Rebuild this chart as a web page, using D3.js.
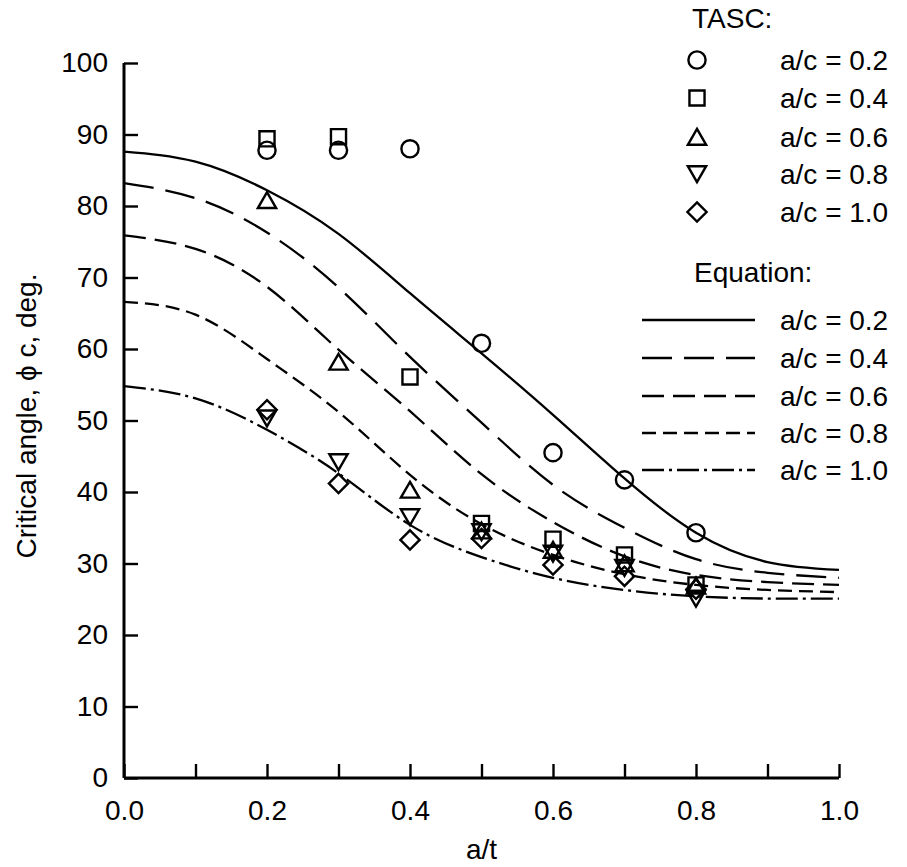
<!DOCTYPE html>
<html>
<head>
<meta charset="utf-8">
<script src="https://cdn.jsdelivr.net/npm/d3@7"></script>
<style>
  html, body { margin: 0; padding: 0; background: #fff; }
  svg { display: block; }
  text { font-family: "Liberation Sans", Arial, sans-serif; fill: #000; }
</style>
</head>
<body>
<svg id="chart" width="907" height="867"></svg>
<script>
// ---------- DATA ----------
const xTicks = [0, 0.1, 0.2, 0.3, 0.4, 0.5, 0.6, 0.7, 0.8, 0.9, 1.0];
const xTickLabels = ["0.0", "", "0.2", "", "0.4", "", "0.6", "", "0.8", "", "1.0"];
const yTicks = [0, 10, 20, 30, 40, 50, 60, 70, 80, 90, 100];

const seriesNames = ["a/c = 0.2", "a/c = 0.4", "a/c = 0.6", "a/c = 0.8", "a/c = 1.0"];

// TASC results (markers)
const tascX = [0.2, 0.3, 0.4, 0.5, 0.6, 0.7, 0.8];
const tasc02 = [87.8, 87.8, 88.0, 60.8, 45.5, 41.7, 34.3];
const tasc04 = [89.4, 89.7, 56.1, 35.6, 33.4, 31.2, 27.0];
const tasc06 = [80.8, 58.2, 40.3, 34.6, 31.9, 30.0, 26.9];
const tasc08 = [50.3, 44.2, 36.5, 34.4, 31.4, 29.4, 25.1];
const tasc10 = [51.5, 41.2, 33.3, 33.5, 29.8, 28.2, 26.4];

// Equation curves
const eqX = [0, 0.1, 0.2, 0.3, 0.4, 0.5, 0.6, 0.7, 0.8, 0.9, 1.0];
const eq02 = [87.6, 86.2, 82.2, 76.1, 67.8, 59.4, 50.8, 41.9, 34.3, 30.2, 29.1];
const eq04 = [83.2, 81.1, 76.3, 68.6, 58.9, 49.7, 41.0, 35.0, 30.6, 28.7, 28.0];
const eq06 = [75.9, 74.0, 68.7, 59.9, 51.3, 42.5, 35.8, 31.0, 28.4, 27.4, 27.0];
const eq08 = [66.6, 64.8, 58.6, 51.2, 42.4, 35.5, 31.2, 28.5, 27.0, 26.3, 26.0];
const eq10 = [54.8, 53.1, 48.7, 42.6, 35.4, 30.9, 28.0, 26.3, 25.4, 25.1, 25.1];

// ---------- SETUP ----------
const svg = d3.select("#chart");
const x = d3.scaleLinear().domain([0, 1]).range([124, 839]);
const y = d3.scaleLinear().domain([0, 100]).range([778, 63]);

const tascSeries = [tasc02, tasc04, tasc06, tasc08, tasc10];
const eqSeries = [eq02, eq04, eq06, eq08, eq10];

const symbols = [
  d3.symbol().type(d3.symbolCircle).size(Math.PI * 8.6 * 8.6),
  d3.symbol().type(d3.symbolSquare2).size(290),
  d3.symbol().type(d3.symbolTriangle2).size(240),
  d3.symbol().type(d3.symbolTriangle2).size(240),
  d3.symbol().type(d3.symbolDiamond2).size(235)
];
const rotations = [0, 0, 0, 180, 0];
const dashes = ["none", "30,12", "22,9", "14,7", "22,5,3,5"];

const FS = 28;

// ---------- CURVES ----------
const line = d3.line()
  .x((d, i) => x(eqX[i]))
  .y(d => y(d))
  .curve(d3.curveNatural);

const curves = svg.append("g");
eqSeries.forEach((s, k) => {
  curves.append("path")
    .attr("d", line(s))
    .attr("fill", "none")
    .attr("stroke", "#000")
    .attr("stroke-width", 2.3)
    .attr("stroke-dasharray", dashes[k]);
});

// ---------- MARKERS ----------
const marks = svg.append("g");
tascSeries.forEach((s, k) => {
  s.forEach((v, i) => {
    const yoff = k === 2 ? 2.5 : (k === 3 ? -2.5 : 0);
    marks.append("path")
      .attr("d", symbols[k]())
      .attr("transform", `translate(${x(tascX[i])},${y(v) + yoff}) rotate(${rotations[k]})`)
      .attr("fill", "none")
      .attr("stroke", "#000")
      .attr("stroke-width", 2.4);
  });
});

// ---------- AXES ----------
const xAxis = d3.axisBottom(x).tickValues(xTicks).tickSize(-14).tickFormat((d, i) => xTickLabels[i]).tickPadding(26);
const gx = svg.append("g").attr("transform", `translate(0,${y(0)})`).call(xAxis);
gx.select(".domain").attr("stroke", "#000").attr("stroke-width", 3)
  .attr("d", `M${x(0)},0H${x(1)}`);
gx.selectAll(".tick line").attr("stroke", "#000").attr("stroke-width", 2.4);
gx.selectAll(".tick text").style("font-size", FS + "px").style("font-family", '"Liberation Sans", Arial, sans-serif').attr("fill", "#000").attr("dy", "0.71em").attr("y", 22);

const yAxis = d3.axisLeft(y).tickValues(yTicks).tickSize(-14).tickPadding(32);
const gy = svg.append("g").attr("transform", `translate(${x(0)},0)`).call(yAxis);
gy.select(".domain").attr("stroke", "#000").attr("stroke-width", 3)
  .attr("d", `M0,${y(0)}V${y(100)}`);
gy.selectAll(".tick line").attr("stroke", "#000").attr("stroke-width", 2.4);
gy.selectAll(".tick text").style("font-size", FS + "px").style("font-family", '"Liberation Sans", Arial, sans-serif').attr("fill", "#000").attr("x", -16);

// axis titles
svg.append("text")
  .attr("x", (x(0) + x(1)) / 2)
  .attr("y", 859)
  .attr("text-anchor", "middle")
  .style("font-size", FS + "px")
  .text("a/t");

svg.append("text")
  .attr("transform", `translate(36,416) rotate(-90)`)
  .attr("text-anchor", "middle")
  .style("font-size", FS + "px")
  .text("Critical angle, \u03d5 c, deg.");

// ---------- LEGEND ----------
const legend = svg.append("g");
legend.append("text").attr("x", 692).attr("y", 28).style("font-size", FS + "px").text("TASC:");
const markerRows = [60, 98, 137, 174, 212];
seriesNames.forEach((name, k) => {
  const yoff = k === 2 ? 2.5 : (k === 3 ? -2.5 : 0);
  legend.append("path")
    .attr("d", symbols[k]())
    .attr("transform", `translate(697,${markerRows[k] + yoff}) rotate(${rotations[k]})`)
    .attr("fill", "none").attr("stroke", "#000").attr("stroke-width", 2.4);
  legend.append("text").attr("x", 780).attr("y", markerRows[k] + 10).style("font-size", FS + "px").text(name);
});

legend.append("text").attr("x", 694).attr("y", 282).style("font-size", FS + "px").text("Equation:");
const lineRows = [320, 358, 396, 433, 470];
seriesNames.forEach((name, k) => {
  legend.append("line")
    .attr("x1", 642).attr("x2", 755)
    .attr("y1", lineRows[k]).attr("y2", lineRows[k])
    .attr("stroke", "#000").attr("stroke-width", 2.3)
    .attr("stroke-dasharray", dashes[k]);
  legend.append("text").attr("x", 780).attr("y", lineRows[k] + 10).style("font-size", FS + "px").text(name);
});
</script>
</body>
</html>
